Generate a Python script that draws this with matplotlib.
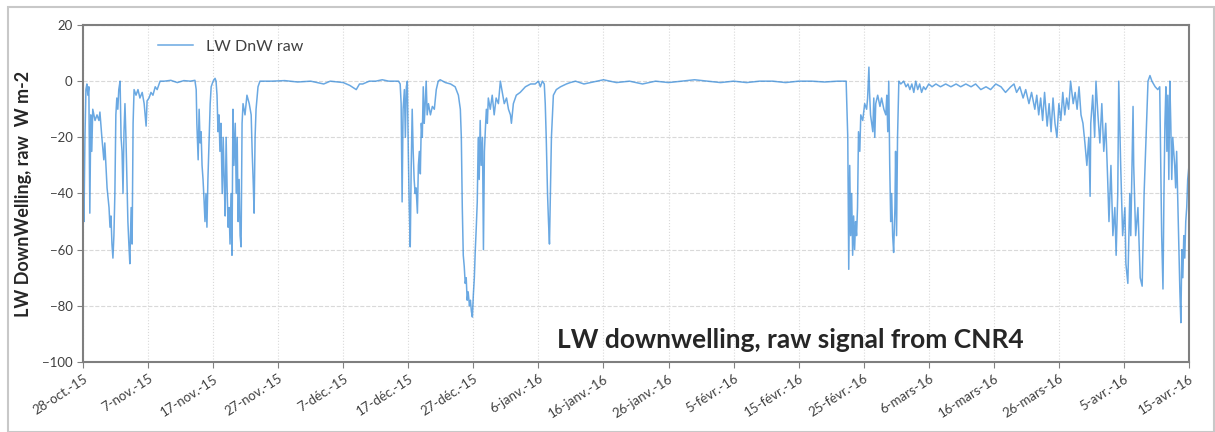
import datetime as dt
import matplotlib
matplotlib.use("Agg")
import matplotlib.pyplot as plt
from matplotlib.patches import Rectangle

plt.rcParams['font.family'] = ['Lato', 'DejaVu Sans']

start = dt.datetime(2015, 10, 28)

# (day since 28-oct-15, LW raw W m-2)
seg_oct_nov = [
    (0, -35), (0.15, -50), (0.3, -20), (0.45, -3), (0.6, -1), (0.75, -5), (0.9, -2),
    (1.05, -47), (1.2, -12), (1.35, -25), (1.5, -10), (1.85, -14), (2.15, -12),
    (2.45, -14), (2.6, -11), (2.9, -20), (3.2, -28), (3.35, -22), (3.7, -38),
    (4.0, -45), (4.15, -52), (4.3, -48), (4.45, -58), (4.6, -63), (4.75, -55),
    (4.9, -40), (5.05, -12), (5.2, -6), (5.35, -10), (5.5, -3), (5.7, 0),
    (5.85, -20), (6.0, -25), (6.15, -40), (6.3, -18), (6.45, -8), (6.6, -20),
    (6.75, -35), (6.9, -50), (7.05, -58), (7.2, -65), (7.4, -45), (7.55, -58),
    (7.7, -15), (7.85, -3), (8.15, -5), (8.45, -3), (8.75, -6), (9.1, -4),
    (9.4, -8), (9.7, -16), (9.85, -7), (10.15, -6), (10.45, -4), (10.75, -5),
    (11.1, -2), (11.4, -3), (11.85, 0), (12.5, 0), (13.5, 0.3), (14.5, -0.5),
    (15.5, 0.2), (16.5, 0), (17.2, 0.3),
]
seg_nov = [
    (17.4, -3), (17.5, -15), (17.7, -28), (17.85, -10), (18.0, -22), (18.15, -18),
    (18.3, -30), (18.45, -35), (18.6, -42), (18.75, -50), (18.9, -40), (19.05, -52),
    (19.2, -35), (19.4, -20), (19.55, -8), (19.7, -2), (20.0, 0), (20.3, 1),
    (20.45, 0), (20.6, -5), (20.75, -18), (20.9, -12), (21.05, -25), (21.2, -15),
    (21.4, -40), (21.55, -20), (21.7, -35), (21.85, -48), (22.0, -20), (22.15, -38),
    (22.3, -52), (22.45, -45), (22.6, -58), (22.75, -40), (22.9, -62), (23.05, -10),
    (23.2, -30), (23.4, -15), (23.55, -40), (23.7, -20), (23.85, -50), (24.0, -35),
    (24.15, -55), (24.3, -59), (24.45, -15), (24.6, -8), (24.9, -12), (25.2, -5),
    (25.55, -8), (25.85, -12), (26.0, -25), (26.15, -35), (26.3, -47), (26.45, -20),
    (26.6, -10), (26.9, -2), (27.2, 0), (29, 0), (31, 0.2), (33, -0.3), (35, 0),
    (37, -1), (38, 0), (40, -0.5), (41, -1.5), (42, -3), (42.5, -1), (43, -1),
    (44, 0), (45, 0), (46, 0.5), (47, 0), (48.5, 0),
]
seg_dec_jan = [
    (48.75, -1), (48.9, -8), (49.05, -43), (49.2, -10), (49.4, -3), (49.55, -20),
    (49.7, -2), (49.85, 0), (50.0, -25), (50.15, -45), (50.3, -59), (50.45, -30),
    (50.6, -10), (50.75, -25), (50.9, -35), (51.05, -40), (51.2, -38), (51.4, -47),
    (51.55, -30), (51.7, -25), (51.85, -33), (52.0, -15), (52.15, -20), (52.3, -2),
    (52.45, -15), (52.6, -8), (52.75, 0), (52.9, -12), (53.1, -8), (53.4, -12),
    (53.7, -9), (54.0, -10), (54.3, -3), (54.6, 0), (54.9, 0.5), (55.7, -0.5),
    (56.5, -1), (57.2, -2), (57.7, -5), (58.0, -10), (58.15, -20), (58.3, -45),
    (58.45, -62), (58.6, -66), (58.75, -72), (58.9, -70), (59.05, -78), (59.2, -75),
    (59.4, -80), (59.55, -78), (59.7, -82), (59.85, -84), (60.0, -76), (60.15, -70),
    (60.3, -60), (60.45, -52), (60.6, -43), (60.75, -20), (60.9, -35), (61.05, -14),
    (61.2, -30), (61.4, -20), (61.55, -60), (61.7, -25), (61.85, -17), (62.0, -10),
    (62.15, -15), (62.3, -6), (62.6, -10), (62.9, -5), (63.2, -12), (63.5, -6),
    (63.85, -8), (64.15, 0), (64.45, -4), (64.75, -8), (65.1, -6), (65.4, -10),
    (65.7, -12), (65.85, -15), (66.15, -8), (66.6, -5), (67.2, -4), (68.0, -2),
    (68.8, -1), (69.5, -1), (70.0, 0), (70.3, -2), (70.6, 0), (70.9, -1),
    (71.05, -8), (71.2, -20), (71.4, -40), (71.55, -50), (71.7, -58), (71.85, -40),
    (72.0, -20), (72.3, -5), (72.75, -3), (73.4, -2), (74.3, -1), (74.9, -0.5),
    (75.7, 0), (77, -1), (79, 0), (80, 0.5), (82, -0.5), (84, 0), (86, -1),
    (88, 0), (90, -0.5), (92, 0), (94, 0.5), (96, 0), (98, -0.5), (100, 0),
    (102, -0.5), (104, 0), (106, 0), (108, -0.5), (110, 0), (112, 0), (114, -0.3),
    (116, 0), (117.3, 0),
]
seg_feb_mar = [
    (117.55, -20), (117.7, -67), (117.85, -30), (118.0, -55), (118.15, -40),
    (118.3, -62), (118.45, -48), (118.6, -60), (118.75, -50), (118.9, -55),
    (119.05, -45), (119.2, -18), (119.4, -25), (119.55, -12), (119.85, -14),
    (120.15, -8), (120.45, -10), (120.6, -6), (120.8, 5), (120.9, -4), (121.05, -12),
    (121.4, -18), (121.55, -6), (121.7, -20), (121.85, -8), (122.15, -5),
    (122.5, -9), (122.75, -6), (123.1, -10), (123.4, -12), (123.55, -5),
    (123.7, -18), (123.85, 0), (124.0, -30), (124.15, -50), (124.3, -40),
    (124.45, -55), (124.6, -61), (124.8, -45), (124.9, -25), (125.05, -55),
    (125.2, -20), (125.4, 0), (125.7, -1), (126.15, 0), (126.5, -2), (126.8, -1),
    (127.1, -3), (127.4, -1), (127.7, -4), (128.0, 0), (128.3, -3), (128.6, -1),
    (128.9, -4), (129.2, -2), (129.5, -3), (130.0, -1), (130.5, -2), (131.1, -1),
    (131.8, -2), (132.6, -1), (133.4, -2), (134.2, -1), (134.9, -2), (135.7, -1),
    (136.5, -2), (137.2, -1), (138.0, -3), (138.8, -2), (139.5, -3), (140.3, -1),
    (141.1, -2), (141.8, -4), (142.6, -2),
]
seg_mar_apr = [
    (143.1, -1), (143.5, -4), (144.0, -2), (144.5, -6), (144.9, -3), (145.4, -8),
    (145.8, -4), (146.3, -10), (146.6, -5), (146.9, -12), (147.2, -6), (147.5, -14),
    (147.8, -4), (148.2, -16), (148.5, -8), (148.8, -18), (149.1, -6), (149.4, -15),
    (149.7, -20), (150.0, -8), (150.3, -14), (150.6, -4), (150.9, -12), (151.2, -6),
    (151.5, -10), (151.8, 0), (152.2, -8), (152.5, -4), (152.8, -10), (153.1, -2),
    (153.4, -12), (153.7, -15), (154.0, -22), (154.3, -30), (154.6, -20),
    (154.8, -41), (154.9, -15), (155.2, -5), (155.5, -20), (155.7, 0), (156.0, -12),
    (156.3, -22), (156.6, -8), (156.9, -25), (157.2, -15), (157.5, -35),
    (157.7, -50), (158.0, -30), (158.3, -55), (158.6, -45), (158.8, -62),
    (159.05, -40), (159.2, 0), (159.5, -30), (159.8, -55), (160.15, -45),
    (160.3, -65), (160.6, -72), (160.9, -40), (161.05, -55), (161.4, -9),
    (161.5, -30), (161.8, -55), (162.15, -45), (162.5, -70), (162.8, -73),
    (163.1, -40), (163.4, -20), (163.7, 0), (164.0, 2), (164.3, 0), (164.8, -2),
    (165.2, -3), (165.5, -2), (165.65, -30), (165.8, -55), (166.0, -74),
    (166.15, -40), (166.3, -15), (166.45, -2), (166.6, -25), (166.75, -5),
    (166.9, -35), (167.05, 0), (167.2, -15), (167.35, -35), (167.5, -20),
    (167.8, -30), (167.95, -38), (168.1, -25), (168.3, -45), (168.45, -60),
    (168.6, -75), (168.75, -86), (168.9, -60), (169.05, -70), (169.2, -55),
    (169.35, -63), (169.5, -50), (169.65, -45), (169.8, -35), (170.0, -30),
]

tick_labels = ["28-oct.-15", "7-nov.-15", "17-nov.-15", "27-nov.-15", "7-déc.-15",
               "17-déc.-15", "27-déc.-15", "6-janv.-16", "16-janv.-16", "26-janv.-16",
               "5-févr.-16", "15-févr.-16", "25-févr.-16", "6-mars-16", "16-mars-16",
               "26-mars-16", "5-avr.-16", "15-avr.-16"]

samples = seg_oct_nov + seg_nov + seg_dec_jan + seg_feb_mar + seg_mar_apr
t = [start + dt.timedelta(days=d) for d, v in samples]
lw = [v for d, v in samples]

fig = plt.figure(figsize=(12.15, 4.32), dpi=100)
fig.patches.append(Rectangle((8 / 1215, 0.0), 1206 / 1215, 1 - 7 / 432, transform=fig.transFigure,
                             fill=False, edgecolor='#c8c8c8', linewidth=1.5))
ax = fig.add_axes([83 / 1215, 1 - 362 / 432, 1106 / 1215, 337 / 432])

ax.plot(t, lw, color='#2b84d6', linewidth=1.1, alpha=0.7, label='LW DnW raw')

ax.set_xlim(start, start + dt.timedelta(days=170))
ax.set_ylim(-100, 20)
ax.set_yticks(range(-100, 21, 20))
ticks = [start + dt.timedelta(days=10 * i) for i in range(len(tick_labels))]
ax.set_xticks(ticks)
ax.set_xticklabels(tick_labels, rotation=33, ha='right', rotation_mode='anchor', fontsize=9.5, color='#404040')
ax.tick_params(axis='y', labelsize=9.5, labelcolor='#404040', length=4, color='#808080')
ax.tick_params(axis='x', length=4, color='#808080')

ax.grid(axis='y', linestyle='--', color='#d9d9d9', linewidth=0.8)
ax.grid(axis='x', linestyle=':', color='#d9d9d9', linewidth=0.8)
for s in ax.spines.values():
    s.set_color('#7f7f7f')
    s.set_linewidth(1.5)

ax.set_ylabel('LW DownWelling, raw  W m-2', fontsize=13, fontweight='bold', color='#262626')
ax.yaxis.set_label_coords(-0.046, 0.5)
ax.legend(loc='upper left', bbox_to_anchor=(0.055, 1.0), frameon=False, fontsize=11.5,
          handlelength=2.2, labelcolor='#404040')
ax.text(0.429, 0.065, 'LW downwelling, raw signal from CNR4', transform=ax.transAxes,
        fontsize=19, fontweight='bold', color='#262626', va='center')

fig.savefig('out.png', dpi=100)
